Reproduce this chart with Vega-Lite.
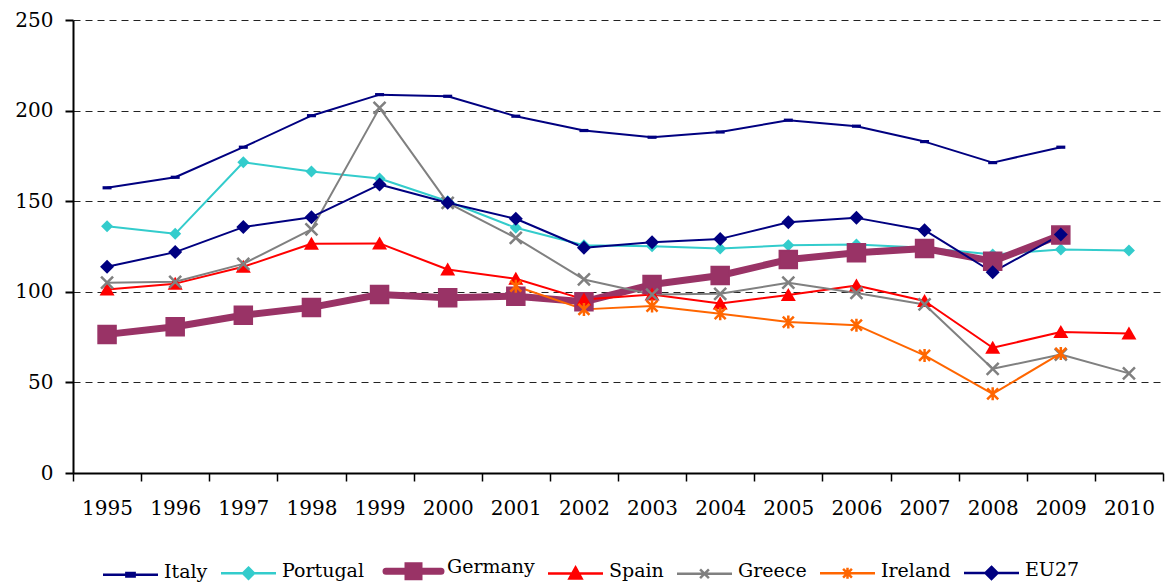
{
  "$schema": "https://vega.github.io/schema/vega-lite/v6.json",
  "width": 1090,
  "height": 453,
  "autosize": {"type": "none"},
  "padding": {"left": 73, "top": 20, "right": 3, "bottom": 115},
  "background": "white",
  "config": {
    "view": {"stroke": null},
    "font": "DejaVu Serif",
    "axis": {"labelFont": "DejaVu Serif", "labelColor": "#000"},
    "legend": {"labelFont": "DejaVu Serif", "padding": 0}
  },
  "data": {
    "values": [
      {"country": "Italy", "year": "1995", "value": 157.4},
      {"country": "Italy", "year": "1996", "value": 163.2},
      {"country": "Italy", "year": "1997", "value": 179.8},
      {"country": "Italy", "year": "1998", "value": 197.2},
      {"country": "Italy", "year": "1999", "value": 208.8},
      {"country": "Italy", "year": "2000", "value": 207.9},
      {"country": "Italy", "year": "2001", "value": 196.9},
      {"country": "Italy", "year": "2002", "value": 189.0},
      {"country": "Italy", "year": "2003", "value": 185.3},
      {"country": "Italy", "year": "2004", "value": 188.2},
      {"country": "Italy", "year": "2005", "value": 194.7},
      {"country": "Italy", "year": "2006", "value": 191.4},
      {"country": "Italy", "year": "2007", "value": 182.9},
      {"country": "Italy", "year": "2008", "value": 171.3},
      {"country": "Italy", "year": "2009", "value": 179.8},
      {"country": "Portugal", "year": "1995", "value": 136.2},
      {"country": "Portugal", "year": "1996", "value": 132.0},
      {"country": "Portugal", "year": "1997", "value": 171.5},
      {"country": "Portugal", "year": "1998", "value": 166.4},
      {"country": "Portugal", "year": "1999", "value": 162.5},
      {"country": "Portugal", "year": "2000", "value": 150.0},
      {"country": "Portugal", "year": "2001", "value": 135.3},
      {"country": "Portugal", "year": "2002", "value": 125.7},
      {"country": "Portugal", "year": "2003", "value": 125.2},
      {"country": "Portugal", "year": "2004", "value": 123.9},
      {"country": "Portugal", "year": "2005", "value": 125.7},
      {"country": "Portugal", "year": "2006", "value": 126.1},
      {"country": "Portugal", "year": "2007", "value": 124.3},
      {"country": "Portugal", "year": "2008", "value": 120.6},
      {"country": "Portugal", "year": "2009", "value": 123.3},
      {"country": "Portugal", "year": "2010", "value": 122.8},
      {"country": "Germany", "year": "1995", "value": 76.5},
      {"country": "Germany", "year": "1996", "value": 80.7},
      {"country": "Germany", "year": "1997", "value": 87.1},
      {"country": "Germany", "year": "1998", "value": 91.4},
      {"country": "Germany", "year": "1999", "value": 98.5},
      {"country": "Germany", "year": "2000", "value": 96.7},
      {"country": "Germany", "year": "2001", "value": 97.6},
      {"country": "Germany", "year": "2002", "value": 94.5},
      {"country": "Germany", "year": "2003", "value": 104.0},
      {"country": "Germany", "year": "2004", "value": 109.0},
      {"country": "Germany", "year": "2005", "value": 117.8},
      {"country": "Germany", "year": "2006", "value": 121.5},
      {"country": "Germany", "year": "2007", "value": 123.9},
      {"country": "Germany", "year": "2008", "value": 116.9},
      {"country": "Germany", "year": "2009", "value": 131.3},
      {"country": "Spain", "year": "1995", "value": 101.3},
      {"country": "Spain", "year": "1996", "value": 104.5},
      {"country": "Spain", "year": "1997", "value": 113.8},
      {"country": "Spain", "year": "1998", "value": 126.5},
      {"country": "Spain", "year": "1999", "value": 126.7},
      {"country": "Spain", "year": "2000", "value": 112.3},
      {"country": "Spain", "year": "2001", "value": 107.2},
      {"country": "Spain", "year": "2002", "value": 95.8},
      {"country": "Spain", "year": "2003", "value": 98.5},
      {"country": "Spain", "year": "2004", "value": 93.6},
      {"country": "Spain", "year": "2005", "value": 98.2},
      {"country": "Spain", "year": "2006", "value": 103.5},
      {"country": "Spain", "year": "2007", "value": 94.9},
      {"country": "Spain", "year": "2008", "value": 69.1},
      {"country": "Spain", "year": "2009", "value": 77.8},
      {"country": "Spain", "year": "2010", "value": 77.0},
      {"country": "Greece", "year": "1995", "value": 105.0},
      {"country": "Greece", "year": "1996", "value": 105.5},
      {"country": "Greece", "year": "1997", "value": 115.4},
      {"country": "Greece", "year": "1998", "value": 134.4},
      {"country": "Greece", "year": "1999", "value": 201.5},
      {"country": "Greece", "year": "2000", "value": 149.1},
      {"country": "Greece", "year": "2001", "value": 129.8},
      {"country": "Greece", "year": "2002", "value": 106.8},
      {"country": "Greece", "year": "2003", "value": 98.5},
      {"country": "Greece", "year": "2004", "value": 98.9},
      {"country": "Greece", "year": "2005", "value": 105.0},
      {"country": "Greece", "year": "2006", "value": 99.4},
      {"country": "Greece", "year": "2007", "value": 93.0},
      {"country": "Greece", "year": "2008", "value": 57.5},
      {"country": "Greece", "year": "2009", "value": 65.4},
      {"country": "Greece", "year": "2010", "value": 55.0},
      {"country": "Ireland", "year": "2001", "value": 103.1},
      {"country": "Ireland", "year": "2002", "value": 90.3},
      {"country": "Ireland", "year": "2003", "value": 92.1},
      {"country": "Ireland", "year": "2004", "value": 87.9},
      {"country": "Ireland", "year": "2005", "value": 83.3},
      {"country": "Ireland", "year": "2006", "value": 81.6},
      {"country": "Ireland", "year": "2007", "value": 64.9},
      {"country": "Ireland", "year": "2008", "value": 43.7},
      {"country": "Ireland", "year": "2009", "value": 66.0},
      {"country": "EU27", "year": "1995", "value": 113.8},
      {"country": "EU27", "year": "1996", "value": 121.9},
      {"country": "EU27", "year": "1997", "value": 135.7},
      {"country": "EU27", "year": "1998", "value": 141.2},
      {"country": "EU27", "year": "1999", "value": 159.2},
      {"country": "EU27", "year": "2000", "value": 149.1},
      {"country": "EU27", "year": "2001", "value": 140.3},
      {"country": "EU27", "year": "2002", "value": 124.3},
      {"country": "EU27", "year": "2003", "value": 127.4},
      {"country": "EU27", "year": "2004", "value": 129.2},
      {"country": "EU27", "year": "2005", "value": 138.4},
      {"country": "EU27", "year": "2006", "value": 140.8},
      {"country": "EU27", "year": "2007", "value": 134.0},
      {"country": "EU27", "year": "2008", "value": 110.8},
      {"country": "EU27", "year": "2009", "value": 131.6}
    ]
  },
  "encoding": {
    "x": {
      "field": "year",
      "type": "ordinal",
      "scale": {"type": "band", "paddingInner": 0, "paddingOuter": 0, "domain": ["1995","1996","1997","1998","1999","2000","2001","2002","2003","2004","2005","2006","2007","2008","2009","2010"]},
      "axis": {
        "title": null,
        "labelAngle": 0,
        "labelFontSize": 20,
        "tickBand": "extent",
        "domainColor": "#000",
        "domainWidth": 2,
        "tickColor": "#000",
        "tickWidth": 1.5,
        "tickSize": 8,
        "labelPadding": 17,
        "grid": false
      }
    },
    "y": {
      "field": "value",
      "type": "quantitative",
      "scale": {"domain": [0, 250], "nice": false},
      "axis": {
        "title": null,
        "labelFontSize": 20,
        "values": [0, 50, 100, 150, 200, 250],
        "domainColor": "#000",
        "domainWidth": 2,
        "tickColor": "#000",
        "tickWidth": 2,
        "tickSize": 8,
        "labelPadding": 12,
        "grid": true,
        "gridColor": "#222",
        "gridWidth": 1,
        "gridDash": [7, 5]
      }
    }
  },
  "layer": [
    {
      "mark": {"type": "line", "strokeJoin": "round", "strokeCap": "round"},
      "encoding": {
        "color": {
          "field": "country",
          "type": "nominal",
          "scale": {
            "domain": ["Italy", "Portugal", "Germany", "Spain", "Greece", "Ireland", "EU27"],
            "range": ["#000080", "#33CCCC", "#993366", "#FF0000", "#808080", "#FF6600", "#000080"]
          },
          "legend": {
            "title": null,
            "orient": "none",
            "direction": "horizontal",
            "columns": 7,
            "legendX": 48,
            "legendY": 534,
            "symbolSize": 3025,
            "symbolType": "M-1,0H1",
            "labelFontSize": 19,
            "labelColor": "#000",
            "labelOffset": 24,
            "columnPadding": 8,
            "encode": {
              "symbols": {
                "update": {
                  "shape": {"signal": "datum.value === 'Italy' ? 'M-1,0H1M-0.15,-0.06H0.15V0.06H-0.15Z' : datum.value === 'Portugal' ? 'M-1,0H1M0,-0.2L0.2,0L0,0.2L-0.2,0Z' : datum.value === 'Germany' ? 'M-1,0H1M-0.2,-0.2H0.2V0.2H-0.2Z' : datum.value === 'Spain' ? 'M-1,0H1M0,-0.22L0.22,0.18H-0.22Z' : datum.value === 'Greece' ? 'M-1,0H1M-0.16,-0.16L0.16,0.16M-0.16,0.16L0.16,-0.16' : datum.value === 'Ireland' ? 'M-1,0H1M0,-0.2V0.2M-0.16,-0.16L0.16,0.16M-0.16,0.16L0.16,-0.16' : 'M-1,0H1M0,-0.22L0.22,0L0,0.22L-0.22,0Z'"},
                  "size": {"value": 3025},
                  "y": {"signal": "datum.value === 'Germany' ? 17 : 12"},
                  "fill": {"signal": "scale('color', datum.value)"},
                  "stroke": {"signal": "scale('color', datum.value)"},
                  "strokeWidth": {"signal": "datum.value === 'Germany' ? 7 : 2.5"},
                  "strokeCap": {"signal": "datum.value === 'Germany' ? 'round' : 'butt'"},
                  "opacity": {"value": 1}
                }
              },
              "labels": {
                "update": {
                  "dy": {"signal": "datum.value === 'Germany' ? 3 : 0"},
                  "baseline": {"value": "middle"}
                }
              }
            }
          }
        },
        "strokeWidth": {
          "condition": {"test": "datum.country === 'Germany'", "value": 7},
          "value": 2
        }
      }
    },
    {
      "mark": {"type": "point", "filled": true, "opacity": 1, "size": 400},
      "encoding": {
        "color": {"field": "country", "type": "nominal", "legend": null},
        "stroke": {"field": "country", "type": "nominal", "scale": {"domain": ["Italy", "Portugal", "Germany", "Spain", "Greece", "Ireland", "EU27"], "range": ["#000080", "#33CCCC", "#993366", "#FF0000", "#808080", "#FF6600", "#000080"]}, "legend": null},
        "strokeWidth": {
          "condition": [
            {"test": "datum.country === 'Greece' || datum.country === 'Ireland'", "value": 2.5},
            {"test": "datum.country === 'Germany'", "value": 1.5}
          ],
          "value": 0
        },
        "shape": {
          "condition": [
            {"test": "datum.country === 'Italy'", "value": "M-0.45,-0.16H0.45V0.16H-0.45Z"},
            {"test": "datum.country === 'Portugal'", "value": "M0,-0.6L0.6,0L0,0.6L-0.6,0Z"},
            {"test": "datum.country === 'Germany'", "value": "M-0.9,-0.9H0.9V0.9H-0.9Z"},
            {"test": "datum.country === 'Spain'", "value": "M0,-0.7L0.75,0.6H-0.75Z"},
            {"test": "datum.country === 'Greece'", "value": "M-0.6,-0.6L0.6,0.6M-0.6,0.6L0.6,-0.6"},
            {"test": "datum.country === 'Ireland'", "value": "M0,-0.65V0.65M-0.55,-0.55L0.55,0.55M-0.55,0.55L0.55,-0.55"}
          ],
          "value": "M0,-0.7L0.7,0L0,0.7L-0.7,0Z"
        }
      }
    }
  ]
}
